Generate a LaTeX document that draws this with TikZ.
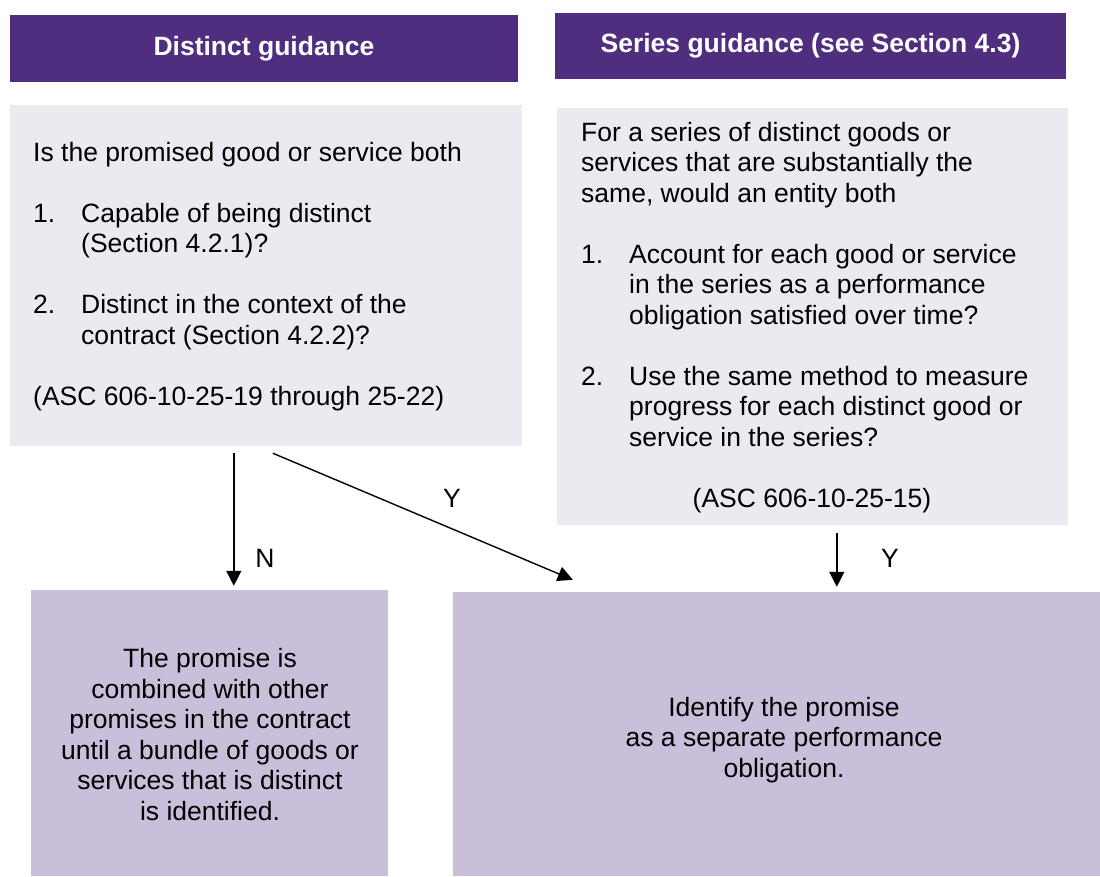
\documentclass[tikz,border=0pt]{standalone}
\usepackage{fontspec}
\setmainfont{Liberation Sans}
\usetikzlibrary{arrows.meta}
\definecolor{hdrpurple}{HTML}{4F2D7F}
\definecolor{lightbox}{HTML}{ECE9F1}
\definecolor{resultbox}{HTML}{C9BFDA}
\tikzset{
  txt/.style={inner sep=0pt, font=\fontsize{26.5}{30.5}\selectfont, text=black},
  hdr/.style={fill=hdrpurple, draw=none, inner sep=0pt, text=white, font=\fontsize{26.5}{30.5}\selectfont\bfseries},
  qbox/.style={fill=lightbox, draw=none, inner sep=0pt},
  rbox/.style={fill=resultbox, draw=none, inner sep=0pt},
  arr/.style={-{Triangle[length=15pt,width=15pt]}, line width=1.4pt, black},
  lbl/.style={txt, anchor=base}
}
\newcommand{\itm}[1]{\makebox[48pt][l]{#1}}
\newcommand{\ind}{\hspace*{48pt}}
\begin{document}
\begin{tikzpicture}[x=1pt, y=-1pt]
\useasboundingbox (0,0) rectangle (1100,876);
% headers
\node[hdr, minimum width=507.5pt, minimum height=67pt] (h1) at (264,48.3) {Distinct guidance};
\node[hdr, minimum width=511pt, minimum height=66.7pt] (h2) at (810.5,46) {Series guidance (see Section 4.3)};
% question boxes
\node[qbox, minimum width=512pt, minimum height=341pt] (q1) at (266,275.5) {};
\node[qbox, minimum width=511pt, minimum height=417pt] (q2) at (812.5,316.5) {};
% result boxes
\node[rbox, minimum width=357pt, minimum height=286pt] (bl) at (209.5,733) {};
\node[rbox, minimum width=647pt, minimum height=284pt] (br) at (776.5,734) {};
% texts (anchored at the baseline of their last line)
\node[txt, align=left, anchor=base west] (t1) at (33,405) {Is the promised good or service both\\[30.5pt]
\itm{1.}Capable of being distinct\\
\ind(Section 4.2.1)?\\[30.5pt]
\itm{2.}Distinct in the context of the\\
\ind contract (Section 4.2.2)?\\[30.5pt]
(ASC 606-10-25-19 through 25-22)};
\node[txt, align=left, anchor=base west] (t2) at (581,446) {For a series of distinct goods or\\
services that are substantially the\\
same, would an entity both\\[30.5pt]
\itm{1.}Account for each good or service\\
\ind in the series as a performance\\
\ind obligation satisfied over time?\\[30.5pt]
\itm{2.}Use the same method to measure\\
\ind progress for each distinct good or\\
\ind service in the series?};
\node[txt, anchor=base] (asc2) at (812,507) {(ASC 606-10-25-15)};
\node[txt, align=center, anchor=base] (tbl) at (210,820) {The promise is\\
combined with other\\
promises in the contract\\
until a bundle of goods or\\
services that is distinct\\
is identified.};
\node[txt, align=center, anchor=base] (tbr) at (784,777) {Identify the promise\\
as a separate performance\\
obligation.};
% connectors
\draw[arr] ([xshift=224pt,yshift=-7pt]q1.south west) -- ([xshift=203pt,yshift=4pt]bl.north west);
\draw[arr] ([xshift=263pt,yshift=-7pt]q1.south west) -- ([xshift=120pt,yshift=12pt]br.north west);
\draw[arr] ([xshift=280pt,yshift=-8pt]q2.south west) -- ([xshift=384pt,yshift=5pt]br.north west);
% labels
\node[lbl] (ln) at (265,567) {N};
\node[lbl] (ly1) at (452,507) {Y};
\node[lbl] (ly2) at (890,567) {Y};
\end{tikzpicture}
\end{document}
